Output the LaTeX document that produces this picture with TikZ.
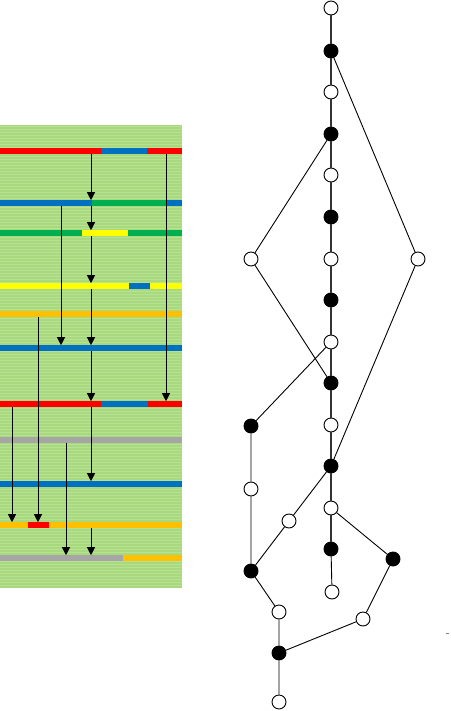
\documentclass[tikz,border=0pt]{standalone}
\usetikzlibrary{arrows.meta}
\definecolor{bgA}{HTML}{A9D97F}
\definecolor{bgB}{HTML}{B6E291}
\definecolor{cR}{HTML}{FF0000}
\definecolor{cB}{HTML}{0070C0}
\definecolor{cG}{HTML}{00B050}
\definecolor{cY}{HTML}{FFFF00}
\definecolor{cO}{HTML}{FFC000}
\definecolor{cS}{HTML}{A6A6A6}
\newcommand\seg[4]{\fill[#4] (#2,#1-2.8) rectangle (#3,#1+2.8);}
\newcommand\flowarr[3]{\draw[flow] (#1,#2+2.8) -- (#1,#3-2.8);}
\begin{document}
\begin{tikzpicture}[x=1pt,y=-1pt,
 wn/.style={circle,draw=black,fill=white,line width=0.9pt,minimum size=14pt,inner sep=0pt},
 bn/.style={wn,fill=black},
 spine/.style={line width=1.6pt,draw=black!80},
 edge/.style={line width=0.9pt},
 flow/.style={line width=1pt,-{Triangle[width=8pt,length=8pt]}}]
\useasboundingbox (0,0) rectangle (450,711);
% striped background
\fill[bgA] (0,125) rectangle (182,588);
\foreach \y in {126,129,...,586} \fill[bgB] (0,\y) rectangle (182,\y+1.3);
% bars
\seg{151}{0}{101}{cR}\seg{151}{101}{147}{cB}\seg{151}{147}{182}{cR}
\seg{203}{0}{92}{cB}\seg{203}{92}{166}{cG}\seg{203}{166}{182}{cB}
\seg{233}{0}{82}{cG}\seg{233}{82}{128}{cY}\seg{233}{128}{182}{cG}
\seg{286}{0}{129}{cY}\seg{286}{129}{150}{cB}\seg{286}{150}{182}{cY}
\seg{314}{0}{182}{cO}
\seg{348}{0}{182}{cB}
\seg{404}{0}{101}{cR}\seg{404}{101}{148}{cB}\seg{404}{148}{182}{cR}
\seg{440}{0}{182}{cS}
\seg{484}{0}{182}{cB}
\seg{525}{0}{28}{cO}\seg{525}{28}{49}{cR}\seg{525}{49}{182}{cO}
\seg{558}{0}{123}{cS}\seg{558}{123}{182}{cO}
% arrows
\flowarr{91}{151}{203}
\flowarr{91}{203}{233}
\flowarr{91}{233}{286}
\flowarr{91}{286}{348}
\flowarr{91}{348}{404}
\flowarr{91}{404}{484}
\flowarr{91}{525}{558}
\flowarr{166}{151}{404}
\flowarr{61}{203}{348}
\flowarr{38}{314}{525}
\flowarr{12}{404}{525}
\flowarr{66}{440}{558}
% graph nodes
\node[wn] (n1) at (331,8) {};
\node[bn] (n2) at (331,51) {};
\node[wn] (n3) at (331,92) {};
\node[bn] (n4) at (331,134) {};
\node[wn] (n5) at (331,175) {};
\node[bn] (n6) at (331,217) {};
\node[wn] (n7) at (331,259) {};
\node[bn] (n8) at (331,300) {};
\node[wn] (n9) at (331,342) {};
\node[bn] (n10) at (331,383) {};
\node[wn] (n11) at (331,425) {};
\node[bn] (n12) at (331,466) {};
\node[wn] (n13) at (331,508) {};
\node[bn] (n14) at (331,549) {};
\node[wn] (n15) at (332,592) {};
\node[wn] (L1) at (251,259) {};
\node[wn] (R1) at (418,259) {};
\node[bn] (B1) at (251,426) {};
\node[wn] (W1) at (251,489) {};
\node[wn] (W2) at (289,521) {};
\node[bn] (B2) at (251,571) {};
\node[wn] (W3) at (279,612) {};
\node[bn] (B3) at (279,653) {};
\node[wn] (W4) at (279,702) {};
\node[bn] (B4) at (393,559) {};
\node[wn] (W5) at (363,619) {};
% edges
\draw[spine] (n1)--(n2) (n2)--(n3) (n3)--(n4) (n4)--(n5) (n5)--(n6) (n6)--(n7)
  (n7)--(n8) (n8)--(n9) (n9)--(n10) (n10)--(n11) (n11)--(n12) (n12)--(n13) (n13)--(n14);
\draw[edge] (n14)--(n15);
\draw[edge] (n2)--(R1) (R1)--(n12) (n4)--(L1) (L1)--(n10)
  (n9)--(B1) (B1)--(W1) (W1)--(B2) (n12)--(W2) (W2)--(B2)
  (B2)--(W3) (W3)--(B3) (B3)--(W4) (n13)--(B4) (B4)--(W5) (W5)--(B3);
\coordinate (dotA) at (446,633);
\coordinate (dotB) at (448.5,633);
\draw[gray,line width=0.6pt] (dotA)--(dotB);
\end{tikzpicture}
\end{document}
